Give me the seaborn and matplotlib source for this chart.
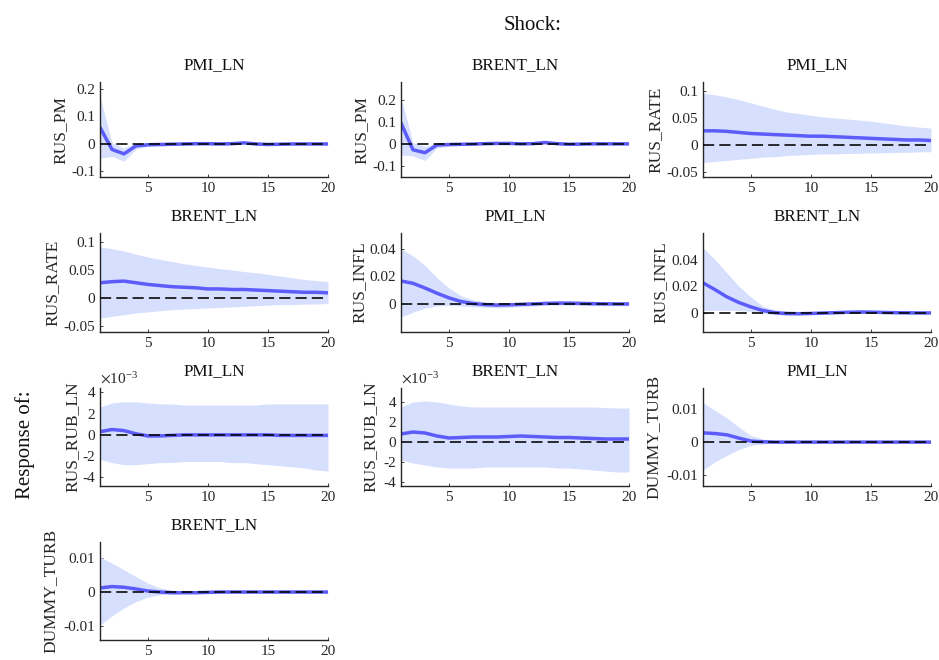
import numpy as np
import pandas as pd
import matplotlib
matplotlib.use("Agg")
import matplotlib.pyplot as plt
from matplotlib.ticker import FixedLocator, FuncFormatter
import seaborn as sns

# Horizons of the impulse responses
horizon = list(range(1, 21))

# PMI_LN -> RUS_PM
pmi_pm_irf = [0.060, -0.020, -0.036, -0.007, -0.003, -0.002, -0.001, 0.000, 0.001, 0.001,
              0.000, 0.001, 0.004, 0.000, -0.002, -0.001, 0.000, 0.000, 0.000, 0.000]
pmi_pm_hi = [0.172, 0.005, -0.015, 0.004, 0.003, 0.003, 0.004, 0.005, 0.006, 0.005,
             0.004, 0.005, 0.008, 0.004, 0.002, 0.003, 0.003, 0.003, 0.003, 0.003]
pmi_pm_lo = [-0.052, -0.045, -0.063, -0.018, -0.009, -0.007, -0.006, -0.005, -0.004, -0.003,
             -0.004, -0.003, 0.000, -0.004, -0.006, -0.005, -0.003, -0.003, -0.003, -0.003]

# BRENT_LN -> RUS_PM
brent_pm_irf = [0.094, -0.027, -0.040, -0.005, -0.003, -0.002, -0.001, 0.001, 0.002, 0.002,
                0.000, 0.001, 0.006, 0.001, -0.002, -0.001, 0.000, 0.000, 0.000, 0.000]
brent_pm_hi = [0.210, 0.005, -0.012, 0.005, 0.004, 0.004, 0.004, 0.006, 0.007, 0.006,
               0.005, 0.005, 0.010, 0.005, 0.003, 0.003, 0.003, 0.003, 0.003, 0.003]
brent_pm_lo = [-0.050, -0.055, -0.075, -0.018, -0.010, -0.008, -0.006, -0.004, -0.003, -0.003,
               -0.004, -0.003, 0.001, -0.004, -0.007, -0.005, -0.003, -0.003, -0.003, -0.003]

# PMI_LN -> RUS_RATE
pmi_rate_irf = [0.026, 0.026, 0.025, 0.023, 0.021, 0.020, 0.019, 0.018, 0.017, 0.016,
                0.016, 0.015, 0.014, 0.013, 0.012, 0.011, 0.010, 0.009, 0.009, 0.008]
pmi_rate_hi = [0.096, 0.093, 0.089, 0.084, 0.078, 0.072, 0.066, 0.061, 0.058, 0.055,
               0.052, 0.050, 0.048, 0.046, 0.044, 0.041, 0.038, 0.035, 0.033, 0.031]
pmi_rate_lo = [-0.033, -0.031, -0.029, -0.027, -0.025, -0.023, -0.022, -0.020, -0.019, -0.018,
               -0.017, -0.017, -0.016, -0.016, -0.015, -0.015, -0.014, -0.014, -0.013, -0.013]

# BRENT_LN -> RUS_RATE
brent_rate_irf = [0.027, 0.029, 0.030, 0.027, 0.024, 0.022, 0.020, 0.019, 0.018, 0.016,
                  0.016, 0.015, 0.015, 0.014, 0.013, 0.012, 0.011, 0.010, 0.010, 0.009]
brent_rate_hi = [0.091, 0.088, 0.084, 0.078, 0.073, 0.069, 0.065, 0.061, 0.058, 0.055,
                 0.052, 0.050, 0.047, 0.045, 0.042, 0.039, 0.036, 0.033, 0.031, 0.029]
brent_rate_lo = [-0.036, -0.033, -0.030, -0.027, -0.025, -0.023, -0.021, -0.020, -0.019, -0.018,
                 -0.017, -0.016, -0.015, -0.014, -0.013, -0.012, -0.012, -0.011, -0.011, -0.010]

# PMI_LN -> RUS_INFL
pmi_infl_irf = [0.0167, 0.0150, 0.0116, 0.0078, 0.0044, 0.0018, 0.0003, -0.0005, -0.0008, -0.0006,
                -0.0003, 0.0000, 0.0004, 0.0006, 0.0006, 0.0004, 0.0002, 0.0001, 0.0000, 0.0000]
pmi_infl_hi = [0.040, 0.035, 0.028, 0.019, 0.0116, 0.006, 0.003, 0.0015, 0.0010, 0.0010,
               0.0012, 0.0015, 0.0018, 0.0020, 0.0020, 0.0018, 0.0015, 0.0013, 0.0012, 0.0012]
pmi_infl_lo = [-0.0095, -0.006, -0.003, -0.0015, -0.001, -0.0015, -0.002, -0.0025, -0.0028, -0.0025,
               -0.002, -0.0015, -0.001, -0.0008, -0.0008, -0.001, -0.0012, -0.0013, -0.0013, -0.0012]

# BRENT_LN -> RUS_INFL
brent_infl_irf = [0.0226, 0.0175, 0.0120, 0.0078, 0.0045, 0.0018, 0.0002, -0.0005, -0.0006, -0.0004,
                  -0.0001, 0.0002, 0.0005, 0.0007, 0.0006, 0.0004, 0.0002, 0.0001, 0.0000, 0.0000]
brent_infl_hi = [0.049, 0.040, 0.030, 0.020, 0.012, 0.005, 0.0022, 0.0015, 0.0012, 0.0012,
                 0.0013, 0.0015, 0.0018, 0.0020, 0.0020, 0.0018, 0.0015, 0.0013, 0.0012, 0.0012]
brent_infl_lo = [0.0018, 0.0020, 0.0020, 0.0018, 0.0012, 0.0000, -0.0012, -0.0016, -0.0015, -0.0012,
                 -0.0009, -0.0006, -0.0004, -0.0003, -0.0004, -0.0005, -0.0006, -0.0006, -0.0006, -0.0006]

# PMI_LN -> RUS_RUB_LN
pmi_rub_irf = [0.0003, 0.0005, 0.0004, 0.0001, -0.0001, -0.0001, -0.00005, 0.0, 0.0, 0.0,
               0.0, 0.0, 0.0, 0.0, 0.0, -0.00005, -0.00005, -0.00005, -0.00005, -0.00005]
pmi_rub_hi = [0.0026, 0.0030, 0.0031, 0.0031, 0.0030, 0.0029, 0.0029, 0.0028, 0.0028, 0.0028,
              0.0028, 0.0028, 0.0028, 0.0028, 0.0029, 0.0029, 0.0029, 0.0029, 0.0029, 0.0029]
pmi_rub_lo = [-0.0023, -0.0026, -0.0028, -0.0028, -0.0027, -0.0026, -0.0026, -0.0025, -0.0025, -0.0025,
              -0.0025, -0.0026, -0.0026, -0.0027, -0.0028, -0.0029, -0.0030, -0.0031, -0.0033, -0.0034]

# BRENT_LN -> RUS_RUB_LN
brent_rub_irf = [0.0008, 0.0010, 0.0009, 0.0006, 0.0004, 0.00045, 0.0005, 0.0005, 0.0005, 0.00055,
                 0.0006, 0.00055, 0.0005, 0.00045, 0.00045, 0.0004, 0.00035, 0.0003, 0.0003, 0.0003]
brent_rub_hi = [0.0035, 0.0040, 0.0041, 0.0040, 0.0038, 0.0036, 0.0035, 0.0035, 0.0035, 0.0035,
                0.0035, 0.0035, 0.0035, 0.0035, 0.0035, 0.0035, 0.0035, 0.00345, 0.0034, 0.0034]
brent_rub_lo = [-0.0018, -0.0021, -0.0023, -0.0025, -0.0026, -0.0026, -0.0026, -0.0025, -0.0025, -0.0025,
                -0.0025, -0.0025, -0.0025, -0.0026, -0.0026, -0.0027, -0.0028, -0.0029, -0.0030, -0.0030]

# PMI_LN -> DUMMY_TURB
pmi_turb_irf = [0.0028, 0.0026, 0.0022, 0.0012, 0.0003, 0.0001, 0.0, 0.0, 0.0, 0.0,
                0.0, 0.0, 0.0, 0.0, 0.0, 0.0, 0.0, 0.0, 0.0, 0.0]
pmi_turb_hi = [0.0120, 0.0096, 0.0073, 0.0045, 0.0020, 0.0009, 0.0005, 0.0003, 0.0002, 0.0002,
               0.0002, 0.0002, 0.0002, 0.0002, 0.0002, 0.0002, 0.0002, 0.0002, 0.0002, 0.0002]
pmi_turb_lo = [-0.0085, -0.0060, -0.0040, -0.0022, -0.0010, -0.0005, -0.0003, -0.0002, -0.0002, -0.0002,
               -0.0002, -0.0002, -0.0002, -0.0002, -0.0002, -0.0002, -0.0002, -0.0002, -0.0002, -0.0002]

# BRENT_LN -> DUMMY_TURB
brent_turb_irf = [0.0012, 0.0016, 0.0014, 0.0009, 0.0003, 0.0, -0.0002, -0.0002, -0.0002, -0.0001,
                  0.0, 0.0, 0.0, 0.0, 0.0, 0.0, 0.0, 0.0, 0.0, 0.0]
brent_turb_hi = [0.0103, 0.0085, 0.0065, 0.0045, 0.0026, 0.0012, 0.0005, 0.0003, 0.0002, 0.0002,
                 0.0002, 0.0002, 0.0002, 0.0002, 0.0002, 0.0002, 0.0002, 0.0002, 0.0002, 0.0002]
brent_turb_lo = [-0.0097, -0.0070, -0.0047, -0.0028, -0.0015, -0.0008, -0.0006, -0.0005, -0.0004, -0.0003,
                 -0.0003, -0.0003, -0.0003, -0.0003, -0.0003, -0.0003, -0.0003, -0.0003, -0.0003, -0.0003]

shocks = ["PMI_LN", "BRENT_LN", "PMI_LN", "BRENT_LN", "PMI_LN",
          "BRENT_LN", "PMI_LN", "BRENT_LN", "PMI_LN", "BRENT_LN"]
responses = ["RUS_PM", "RUS_PM", "RUS_RATE", "RUS_RATE", "RUS_INFL",
             "RUS_INFL", "RUS_RUB_LN", "RUS_RUB_LN", "DUMMY_TURB", "DUMMY_TURB"]
x_ticks = [5, 10, 15, 20]

panels = [
    (pmi_pm_irf, pmi_pm_lo, pmi_pm_hi),
    (brent_pm_irf, brent_pm_lo, brent_pm_hi),
    (pmi_rate_irf, pmi_rate_lo, pmi_rate_hi),
    (brent_rate_irf, brent_rate_lo, brent_rate_hi),
    (pmi_infl_irf, pmi_infl_lo, pmi_infl_hi),
    (brent_infl_irf, brent_infl_lo, brent_infl_hi),
    (pmi_rub_irf, pmi_rub_lo, pmi_rub_hi),
    (brent_rub_irf, brent_rub_lo, brent_rub_hi),
    (pmi_turb_irf, pmi_turb_lo, pmi_turb_hi),
    (brent_turb_irf, brent_turb_lo, brent_turb_hi),
]

# Axis ranges, ticks and tick scaling per panel
y_limits = [(-0.12, 0.225), (-0.15, 0.28), (-0.06, 0.117), (-0.061, 0.116), (-0.0204, 0.0516),
            (-0.0143, 0.060), (-0.0048, 0.0044), (-0.0044, 0.0054), (-0.0133, 0.0164), (-0.0141, 0.0147)]
y_ticks = [[-0.1, 0, 0.1, 0.2], [-0.1, 0, 0.1, 0.2], [-0.05, 0, 0.05, 0.1], [-0.05, 0, 0.05, 0.1],
           [0, 0.02, 0.04], [0, 0.02, 0.04], [-0.004, -0.002, 0, 0.002, 0.004],
           [-0.004, -0.002, 0, 0.002, 0.004], [-0.01, 0, 0.01], [-0.01, 0, 0.01]]
y_scale = [1, 1, 1, 1, 1, 1, 1e-3, 1e-3, 1, 1]
label_x = [-0.137, -0.137, -0.171, -0.172, -0.145, -0.149, -0.084, -0.097, -0.18, -0.18]

sns.set_theme(style="white")
plt.rcParams["font.family"] = ["Liberation Serif", "DejaVu Serif"]
plt.rcParams["mathtext.fontset"] = "stix"
plt.rcParams["axes.unicode_minus"] = False

W, H = 939, 660
fig = plt.figure(figsize=(W / 100, H / 100), dpi=100)

col_left = [100, 401, 703]
col_width = 228
row_top = [82, 233, 388, 542]
row_bottom = [177, 332, 486, 640]

band_color = "#d6dffe"
line_color = "#5c5cfb"
text_gray = "#262626"

for i, (irf, lo, hi) in enumerate(panels):
    r, c = divmod(i, 3)
    left = col_left[c] / W
    bottom = 1 - row_bottom[r] / H
    height = (row_bottom[r] - row_top[r]) / H
    ax = fig.add_axes([left, bottom, col_width / W, height])

    df = pd.DataFrame({"h": horizon, "irf": irf, "lo": lo, "hi": hi})
    ax.fill_between(df["h"], df["lo"], df["hi"], color=band_color, linewidth=0, zorder=1)
    sns.lineplot(data=df, x="h", y="irf", ax=ax, color=line_color, linewidth=2.5,
                 zorder=2, legend=False)
    ax.axhline(0, color="black", linewidth=1.15, dashes=(7, 3.2), zorder=3)

    ax.set_xlim(1, 20)
    ax.set_ylim(*y_limits[i])
    ax.xaxis.set_major_locator(FixedLocator(x_ticks))
    ax.yaxis.set_major_locator(FixedLocator(y_ticks[i]))
    s = y_scale[i]
    ax.yaxis.set_major_formatter(FuncFormatter(lambda v, p, s=s: "%g" % round(v / s, 6)))
    ax.tick_params(axis="both", which="major", direction="in", length=2.5, width=0.6,
                   labelsize=11, colors=text_gray, pad=3.5, left=True, bottom=True)

    sns.despine(ax=ax)
    for sp in ("left", "bottom"):
        ax.spines[sp].set_color(text_gray)
        ax.spines[sp].set_linewidth(1.0)

    ax.set_xlabel("")
    ax.set_ylabel(responses[i], fontsize=12.5, color=text_gray)
    ax.yaxis.set_label_coords(label_x[i], 0.5)
    ax.set_title(shocks[i], fontsize=12.3, color="#111111", pad=9)

    if s != 1:
        ax.text(0.0, 1.01, r"$\times\mathregular{10^{-3}}$", transform=ax.transAxes,
                ha="left", va="bottom", fontsize=11, color=text_gray)

fig.text(533 / W, 1 - 25 / H, "Shock:", ha="center", va="center", fontsize=15, color="#111111")
fig.text(25 / W, 1 - 445 / H, "Response of:", ha="center", va="center", rotation=90,
         fontsize=15, color="#111111")

fig.savefig("out.png", dpi=100, facecolor="white")
